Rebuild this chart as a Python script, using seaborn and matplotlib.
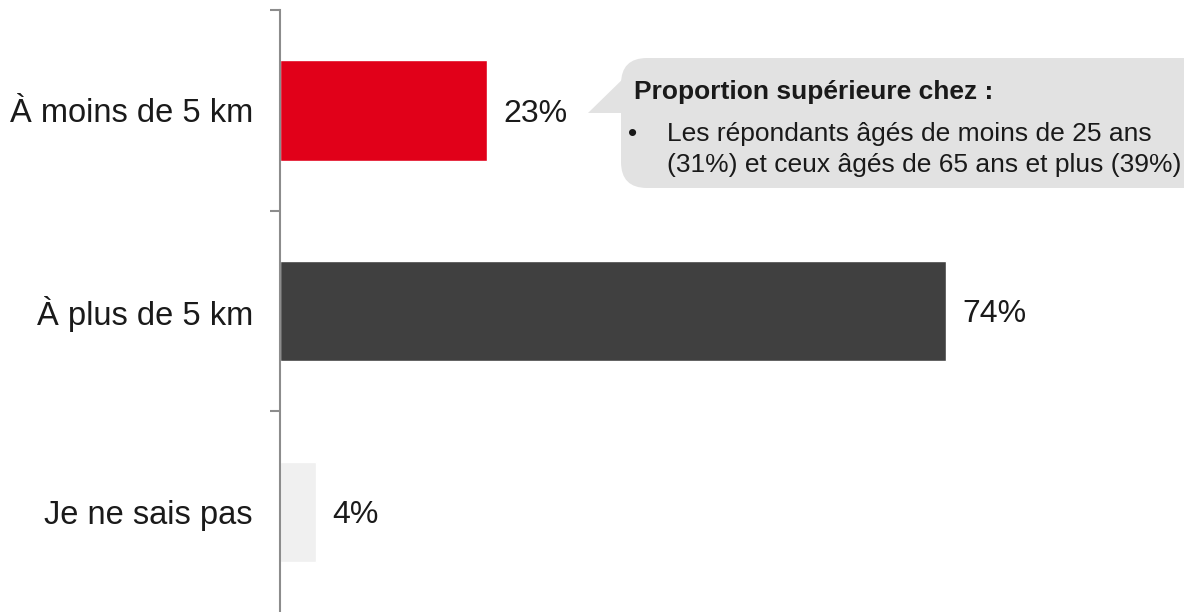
import matplotlib
matplotlib.use("Agg")
import matplotlib.pyplot as plt
import seaborn as sns
import pandas as pd
from matplotlib.patches import FancyBboxPatch, Polygon

# data
categories = ["À moins de 5 km", "À plus de 5 km", "Je ne sais pas"]
values = [23, 74, 4]
bar_colors = ["#e10019", "#404040", "#f0f0f0"]
callout_title = "Proportion supérieure chez :"
callout_lines = ["Les répondants âgés de moins de 25 ans",
                 "(31%) et ceux âgés de 65 ans et plus (39%)"]

df = pd.DataFrame({"cat": categories, "val": values})

sns.set_style("white")
plt.rcParams["font.family"] = ["Liberation Sans", "DejaVu Sans"]

W, H = 1184, 612
fig = plt.figure(figsize=(W / 100, H / 100), dpi=100)
ax = fig.add_axes([280 / W, 0, (1184 - 280) / W, 1 - 10 / H])

sns.barplot(data=df, x="val", y="cat", hue="cat", palette=bar_colors,
            width=0.5, legend=False, ax=ax, saturation=1)

ax.set_xlim(0, 100.4)
ax.set_ylim(2.5, -0.5)
ax.set_xlabel("")
ax.set_ylabel("")
ax.set_xticks([])
sns.despine(ax=ax, top=True, right=True, bottom=True, left=False)
ax.spines["left"].set_color("#8c8c8c")
ax.spines["left"].set_linewidth(1.5)

ax.set_yticks(range(len(categories)))
ax.set_yticklabels(categories, fontsize=23.5, color="#1a1a1a", va="center_baseline")
ax.tick_params(axis="y", which="major", length=0, pad=19.5)
ax.set_yticks([-0.5, 0.5, 1.5], minor=True)
ax.tick_params(axis="y", which="minor", left=True, length=7.5, width=1.5,
               color="#8c8c8c")

for i, v in enumerate(values):
    ax.text(v + 1.8, i, f"{v}%", fontsize=23, va="center_baseline", ha="left",
            color="#1a1a1a")

# callout bubble (figure pixel coords)
def fx(px):
    return px / W

def fy(py):
    return 1 - py / H

box = FancyBboxPatch((fx(621), fy(188)), fx(1240) - fx(621), fy(58) - fy(188),
                     boxstyle="round,pad=0,rounding_size=0.022",
                     transform=fig.transFigure, facecolor="#e2e2e2",
                     edgecolor="none", mutation_aspect=W / H, clip_on=False)
fig.patches.append(box)
tri = Polygon([(fx(588), fy(113)), (fx(630), fy(113)), (fx(630), fy(72))],
              closed=True, transform=fig.transFigure, facecolor="#e2e2e2",
              edgecolor="none")
fig.patches.append(tri)

fig.text(fx(634), fy(90), callout_title, fontsize=19, fontweight="bold",
         va="center_baseline", ha="left", color="#1a1a1a")
fig.text(fx(628), fy(131), "•", fontsize=19, va="center_baseline", ha="left",
         color="#1a1a1a")
for k, line in enumerate(callout_lines):
    fig.text(fx(667), fy(131 + 32 * k), line, fontsize=19,
             va="center_baseline", ha="left", color="#1a1a1a")

fig.savefig("out.png", dpi=100)
